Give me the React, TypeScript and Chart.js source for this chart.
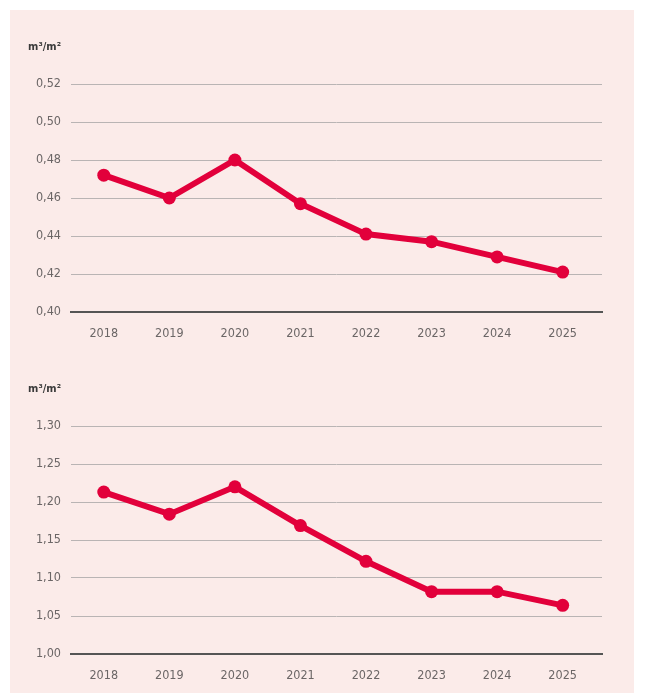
import React, { useEffect, useRef } from "react";
import { Chart, registerables } from "chart.js";

Chart.register(...registerables);

const years = ["2018", "2019", "2020", "2021", "2022", "2023", "2024", "2025"];
const series1 = [0.472, 0.46, 0.48, 0.457, 0.441, 0.437, 0.429, 0.421];
const series2 = [1.213, 1.184, 1.22, 1.169, 1.122, 1.082, 1.082, 1.064];
const yTicks1 = [0.4, 0.42, 0.44, 0.46, 0.48, 0.5, 0.52];
const yTicks2 = [1.0, 1.05, 1.1, 1.15, 1.2, 1.25, 1.3];
const unitLabel = "m³/m²";

const FONT = "'Liberation Sans Narrow', 'DejaVu Sans Condensed', 'Liberation Sans', sans-serif";
const LINE_COLOR = "#e2003b";

type Props = { values: number[]; ticks: number[]; unit: string; topPad: number; bottomPad: number };

function LineChart({ values, ticks, unit, topPad, bottomPad }: Props) {
  const ref = useRef<HTMLCanvasElement | null>(null);
  useEffect(() => {
    if (!ref.current) return;
    const min = ticks[0];
    const max = ticks[ticks.length - 1];
    const unitPlugin = {
      id: "unitLabel",
      afterDraw(chart: any) {
        const c = chart.ctx;
        const a = chart.chartArea;
        c.save();
        c.font = `bold 11px ${FONT}`;
        c.fillStyle = "#3a3a3a";
        c.textAlign = "right";
        c.textBaseline = "middle";
        c.fillText(unit, a.left - 10, a.top - 37);
        c.restore();
      },
    };
    const chart = new Chart(ref.current, {
      type: "line",
      data: {
        datasets: [
          {
            data: values.map((v, i) => ({ x: i, y: v })),
            borderColor: LINE_COLOR,
            backgroundColor: LINE_COLOR,
            borderWidth: 6,
            pointRadius: 6.5,
            pointBorderWidth: 0,
            pointBackgroundColor: LINE_COLOR,
            tension: 0,
          },
        ],
      },
      options: {
        animation: false,
        responsive: true,
        maintainAspectRatio: false,
        layout: { padding: { left: 0, right: 32, top: topPad, bottom: bottomPad } },
        plugins: { legend: { display: false }, tooltip: { enabled: false } },
        scales: {
          x: {
            type: "linear",
            min: -0.5,
            max: years.length - 0.4,
            afterBuildTicks(scale: any) {
              scale.ticks = years.map((_, i) => ({ value: i }));
            },
            grid: { display: false, drawTicks: false },
            border: { display: true, color: "#555", width: 2, z: 1 },
            ticks: {
              color: "#6b6666",
              font: { family: FONT, size: 12.5 },
              padding: 14,
              maxRotation: 0,
              autoSkip: false,
              callback: (v: any) => years[Math.round(Number(v))] ?? "",
            },
            afterFit(scale: any) {
              scale.height = 30;
            },
          },
          y: {
            min,
            max,
            afterBuildTicks(scale: any) {
              scale.ticks = ticks.map((v) => ({ value: v }));
            },
            grid: {
              drawTicks: false,
              color: (ctx: any) => (ctx.tick && Math.abs(ctx.tick.value - min) < 1e-9 ? "rgba(0,0,0,0)" : "#b9b4b4"),
              lineWidth: 1,
            },
            border: { display: false },
            ticks: {
              color: "#6b6666",
              font: { family: FONT, size: 12.5 },
              padding: 10,
              callback: (v: any) => Number(v).toFixed(2).replace(".", ","),
            },
            afterFit(scale: any) {
              scale.width = 61;
            },
          },
        },
      },
      plugins: [unitPlugin],
    });
    return () => chart.destroy();
  }, [values, ticks, unit, topPad, bottomPad]);
  return (
    <div style={{ position: "relative", width: 624, height: 340 }}>
      <canvas ref={ref} />
    </div>
  );
}

export default function App() {
  return (
    <div
      style={{
        position: "absolute",
        left: 10,
        top: 10,
        width: 624,
        height: 683,
        background: "#fbebe9",
      }}
    >
      <LineChart values={series1} ticks={yTicks1} unit={unitLabel} topPad={74} bottomPad={8} />
      <LineChart values={series2} ticks={yTicks2} unit={unitLabel} topPad={76} bottomPad={6} />
    </div>
  );
}
